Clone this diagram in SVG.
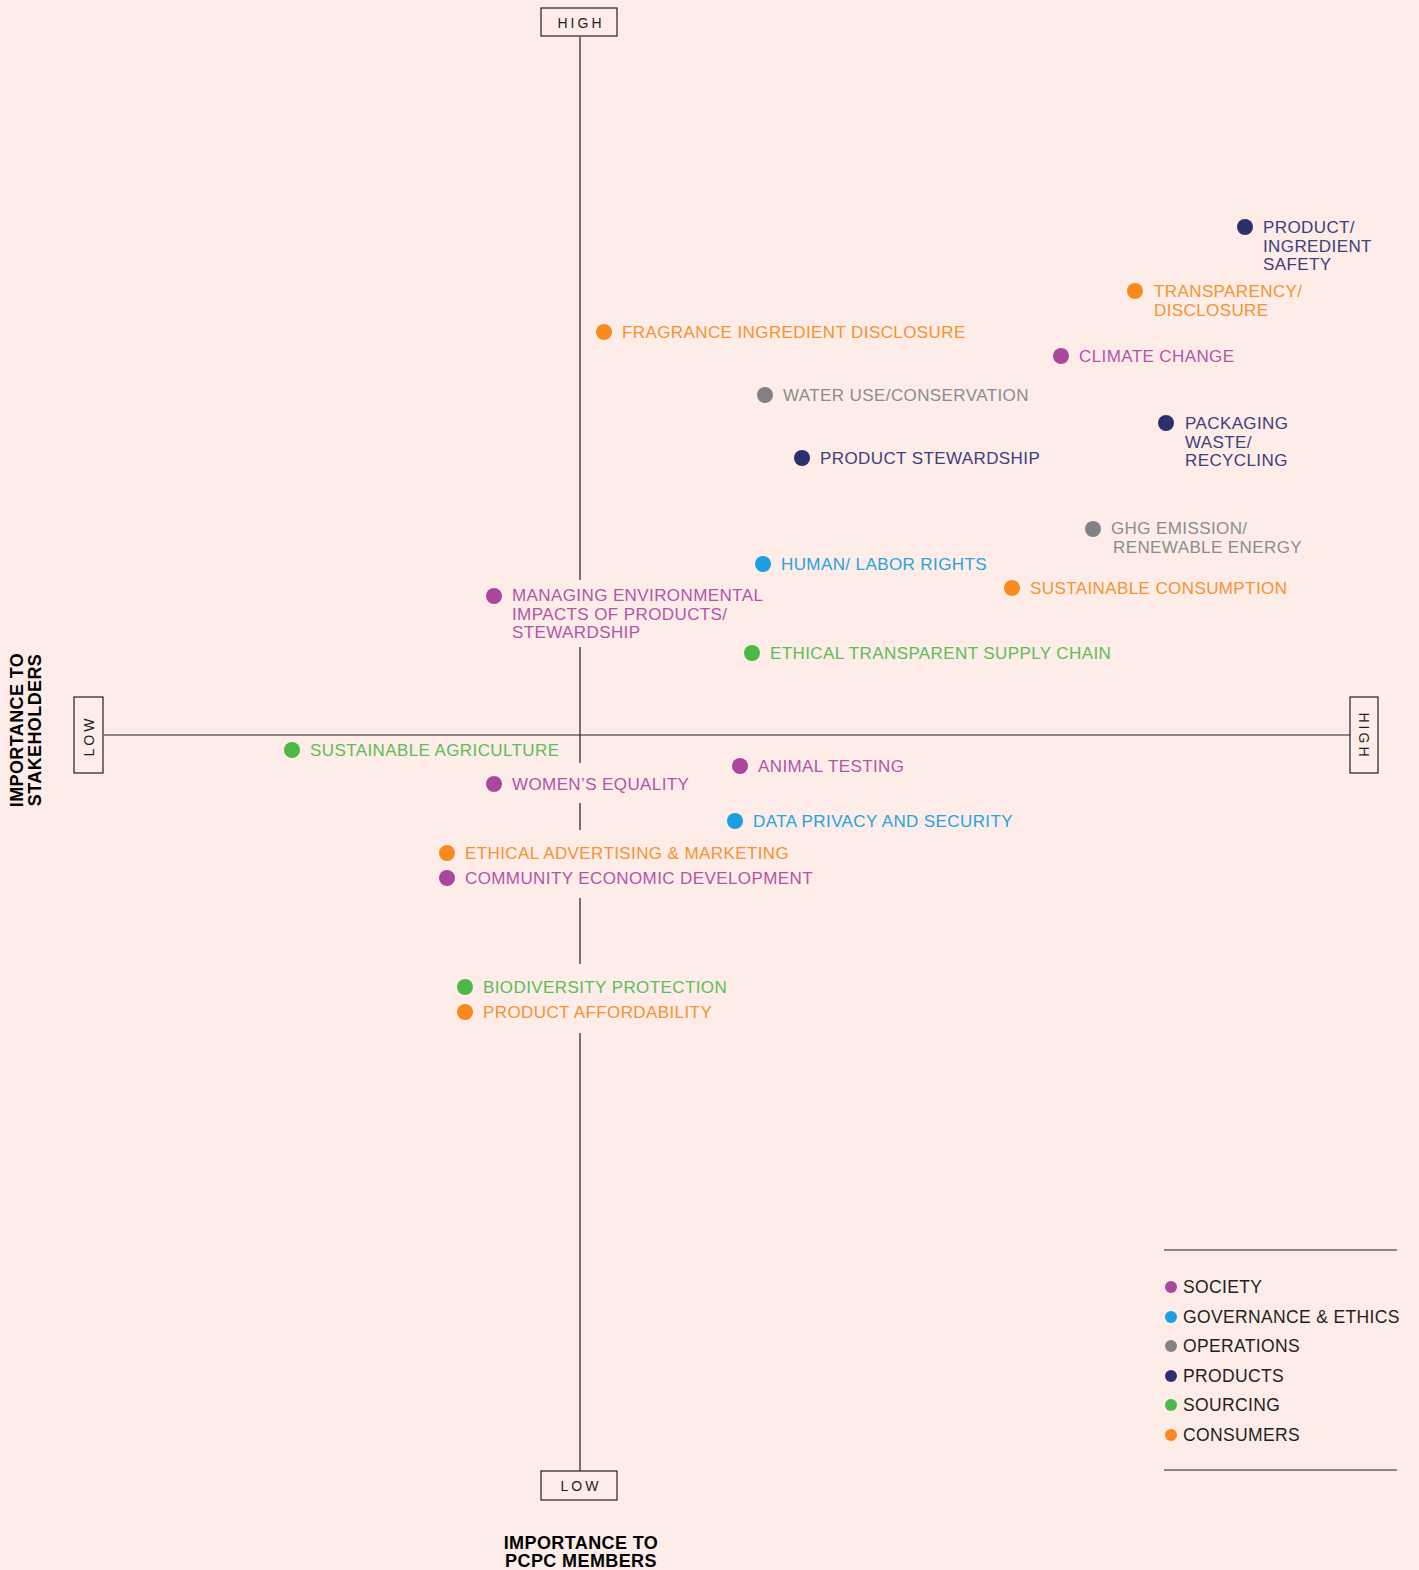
<svg xmlns="http://www.w3.org/2000/svg" width="1419" height="1570" viewBox="0 0 1419 1570">
<style>
.bg{fill:#fdece8}
.ax{stroke:#231f20;stroke-width:1.2;fill:none}
.box{fill:none;stroke:#231f20;stroke-width:1.2}
.bt{font-family:"Liberation Sans",Arial,sans-serif;font-size:14px;letter-spacing:3px;fill:#231f20}
.tt{font-family:"Liberation Sans",Arial,sans-serif;font-size:18px;font-weight:bold;letter-spacing:0.4px;fill:#000}
.lb{font-family:"Liberation Sans",Arial,sans-serif;font-size:17px;letter-spacing:0.4px}
.lg{font-family:"Liberation Sans",Arial,sans-serif;font-size:17.5px;letter-spacing:0.35px;fill:#231f20}
.soc{fill:#a9479c}.gov{fill:#1a9fe0}.ops{fill:#808285}.prd{fill:#2b2f6e}.src{fill:#4db848}.con{fill:#f7891f}
.tsoc{fill:#b355a6}.tgov{fill:#27a3e0}.tops{fill:#8a8c8e}.tprd{fill:#3e407c}.tsrc{fill:#5cbd57}.tcon{fill:#f7922f}
</style>
<rect class="bg" x="0" y="0" width="1419" height="1570"/>
<g id="axes">
<path class="ax" d="M580 37V580M580 647V763M580 803V830M580 898V964M580 1033V1471M104 735H1350"/>
<rect class="box" x="541" y="8" width="76" height="28"/>
<text class="bt" x="581" y="28" text-anchor="middle">HIGH</text>
<rect class="box" x="541" y="1471" width="76" height="29"/>
<text class="bt" x="581" y="1491" text-anchor="middle">LOW</text>
<rect class="box" x="74" y="697" width="29" height="76"/>
<text class="bt" transform="translate(94,736) rotate(-90)" text-anchor="middle">LOW</text>
<rect class="box" x="1350" y="697" width="28" height="76"/>
<text class="bt" transform="translate(1359,736) rotate(90)" text-anchor="middle">HIGH</text>
<text class="tt" x="581" y="1549" text-anchor="middle">IMPORTANCE TO</text>
<text class="tt" x="581" y="1567" text-anchor="middle">PCPC MEMBERS</text>
<text class="tt" transform="translate(23,730) rotate(-90)" text-anchor="middle">IMPORTANCE TO</text>
<text class="tt" transform="translate(41,730) rotate(-90)" text-anchor="middle">STAKEHOLDERS</text>
</g>
<g id="connectors"></g>
<g id="n-product-ingredient-safety"><circle class="prd" cx="1245" cy="227" r="8"/><text class="lb tprd" x="1263" y="233">PRODUCT/<tspan x="1263" dy="18.5">INGREDIENT</tspan><tspan x="1263" dy="18.5">SAFETY</tspan></text></g>
<g id="n-transparency"><circle class="con" cx="1135" cy="291" r="8"/><text class="lb tcon" x="1154" y="297">TRANSPARENCY/<tspan x="1154" dy="18.5">DISCLOSURE</tspan></text></g>
<g id="n-fragrance"><circle class="con" cx="604" cy="332" r="8"/><text class="lb tcon" x="622" y="338">FRAGRANCE INGREDIENT DISCLOSURE</text></g>
<g id="n-climate"><circle class="soc" cx="1061" cy="356" r="8"/><text class="lb tsoc" x="1079" y="362">CLIMATE CHANGE</text></g>
<g id="n-water"><circle class="ops" cx="765" cy="395" r="8"/><text class="lb tops" x="783" y="401">WATER USE/CONSERVATION</text></g>
<g id="n-packaging"><circle class="prd" cx="1166" cy="423" r="8"/><text class="lb tprd" x="1185" y="429">PACKAGING<tspan x="1185" dy="18.5">WASTE/</tspan><tspan x="1185" dy="18.5">RECYCLING</tspan></text></g>
<g id="n-stewardship"><circle class="prd" cx="802" cy="458" r="8"/><text class="lb tprd" x="820" y="464">PRODUCT STEWARDSHIP</text></g>
<g id="n-ghg"><circle class="ops" cx="1093" cy="529" r="8"/><text class="lb tops" x="1111" y="534">GHG EMISSION/<tspan x="1113" dy="18.5">RENEWABLE ENERGY</tspan></text></g>
<g id="n-human"><circle class="gov" cx="763" cy="564" r="8"/><text class="lb tgov" x="781" y="570">HUMAN/ LABOR RIGHTS</text></g>
<g id="n-sust-consumption"><circle class="con" cx="1012" cy="588" r="8"/><text class="lb tcon" x="1030" y="594">SUSTAINABLE CONSUMPTION</text></g>
<g id="n-managing"><circle class="soc" cx="494" cy="596" r="8"/><text class="lb tsoc" x="512" y="601">MANAGING ENVIRONMENTAL<tspan x="512" dy="18.5">IMPACTS OF PRODUCTS/</tspan><tspan x="512" dy="18.5">STEWARDSHIP</tspan></text></g>
<g id="n-ethical-supply"><circle class="src" cx="752" cy="653" r="8"/><text class="lb tsrc" x="770" y="659">ETHICAL TRANSPARENT SUPPLY CHAIN</text></g>
<g id="n-sust-agri"><circle class="src" cx="292" cy="750" r="8"/><text class="lb tsrc" x="310" y="756">SUSTAINABLE AGRICULTURE</text></g>
<g id="n-animal"><circle class="soc" cx="740" cy="766" r="8"/><text class="lb tsoc" x="758" y="772">ANIMAL TESTING</text></g>
<g id="n-women"><circle class="soc" cx="494" cy="784" r="8"/><text class="lb tsoc" x="512" y="790">WOMEN’S EQUALITY</text></g>
<g id="n-data"><circle class="gov" cx="735" cy="821" r="8"/><text class="lb tgov" x="753" y="827">DATA PRIVACY AND SECURITY</text></g>
<g id="n-ethical-adv"><circle class="con" cx="447" cy="853" r="8"/><text class="lb tcon" x="465" y="859">ETHICAL ADVERTISING &amp; MARKETING</text></g>
<g id="n-community"><circle class="soc" cx="447" cy="878" r="8"/><text class="lb tsoc" x="465" y="884">COMMUNITY ECONOMIC DEVELOPMENT</text></g>
<g id="n-biodiversity"><circle class="src" cx="465" cy="987" r="8"/><text class="lb tsrc" x="483" y="993">BIODIVERSITY PROTECTION</text></g>
<g id="n-affordability"><circle class="con" cx="465" cy="1012" r="8"/><text class="lb tcon" x="483" y="1018">PRODUCT AFFORDABILITY</text></g>
<g id="legend">
<path class="ax" d="M1164 1250H1397M1164 1470H1397"/>
<circle class="soc" cx="1171" cy="1287" r="6"/><text class="lg" x="1183" y="1293">SOCIETY</text>
<circle class="gov" cx="1171" cy="1317" r="6"/><text class="lg" x="1183" y="1323">GOVERNANCE &amp; ETHICS</text>
<circle class="ops" cx="1171" cy="1346" r="6"/><text class="lg" x="1183" y="1352">OPERATIONS</text>
<circle class="prd" cx="1171" cy="1376" r="6"/><text class="lg" x="1183" y="1382">PRODUCTS</text>
<circle class="src" cx="1171" cy="1405" r="6"/><text class="lg" x="1183" y="1411">SOURCING</text>
<circle class="con" cx="1171" cy="1435" r="6"/><text class="lg" x="1183" y="1441">CONSUMERS</text>
</g>
</svg>
